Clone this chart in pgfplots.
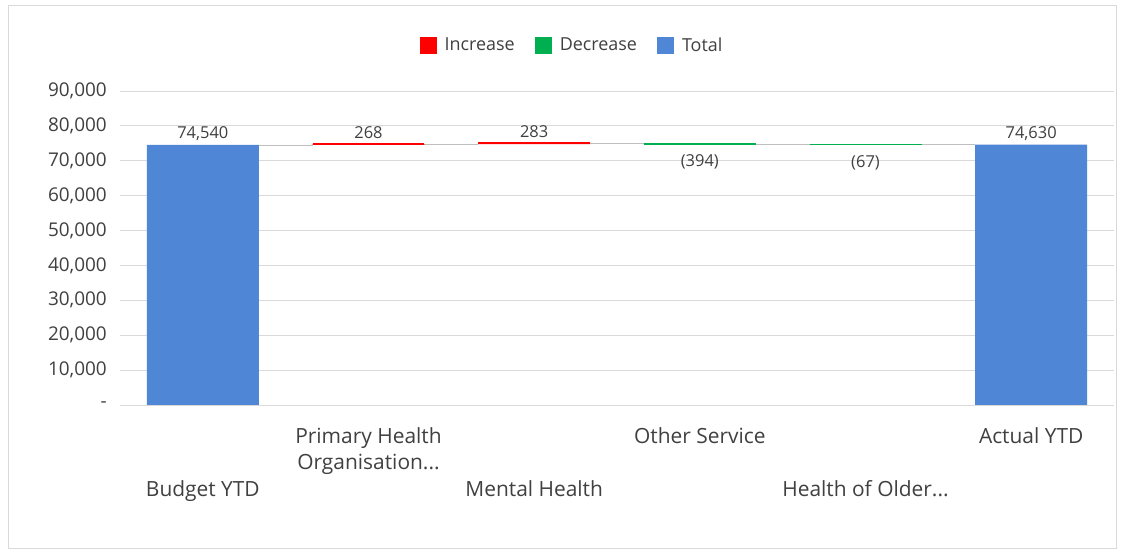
\documentclass[border=0pt]{standalone}
\usepackage{pgfplots}
\usepackage{pgfplotstable}
\pgfplotsset{compat=1.18}
\usepackage{fontspec}
\setmainfont{Open Sans}

\definecolor{incRed}{HTML}{FF0000}
\definecolor{decGreen}{HTML}{00B050}
\definecolor{totBlue}{HTML}{4F86D6}
\definecolor{txtGrey}{HTML}{404040}
\definecolor{gridGrey}{HTML}{D9D9D9}
\definecolor{linkGrey}{HTML}{BFBFBF}

\newcommand{\trunc}{.\kern0pt.\kern0pt.}
\def\nolab{none}
% print a value label unless the bar is marked "none"
\newcommand{\barlabel}{\edef\thislab{\pgfplotspointmeta}\ifx\thislab\nolab\else\pgfplotspointmeta\fi}
\pgfplotsset{
  valuelabels/.style={point meta=explicit symbolic, nodes near coords={\barlabel},
    every node near coord/.style={font=\fontsize{16.5}{20}\selectfont, text=txtGrey,
      inner sep=0pt, anchor=base, yshift=#1}},
}

% Waterfall: invisible base + increase + decrease + totals (stacked)
\pgfplotstableread{
x base  inc dec tot   inclab declab totlab
0 0     0   0   74540 none   none   74,540
1 74540 268 0   0     268    none   none
2 74808 283 0   0     283    none   none
3 74697 0   394 0     none   (394)  none
4 74630 0   67  0     none   (67)   none
5 0     0   0   74630 none   none   74,630
}\waterfall

% running total carried from one bar to the next
\pgfplotstableread{
x     y
0.338 74540
0.662 74540
nan   nan
1.338 74808
1.662 74808
nan   nan
2.338 75091
2.662 75091
nan   nan
3.338 74697
3.662 74697
nan   nan
4.338 74630
4.662 74630
}\connectors

% edges of the small movement bars, so that they stay visible
\pgfplotstableread{
x     y
0.662 74808
1.338 74808
nan   nan
1.662 75091
2.338 75091
}\upedges
\pgfplotstableread{
x     y
2.662 74697
3.338 74697
nan   nan
3.662 74630
4.338 74630
}\downedges

\begin{document}
\begin{tikzpicture}
\useasboundingbox (0,0) rectangle (1121bp,553bp);
\fill[white] (0,0) rectangle (1121bp,553bp);
\draw[gridGrey, line width=0.8bp] (8bp,5bp) rectangle (1116bp,548bp);
\begin{axis}[
  at={(120bp,148bp)}, anchor=south west,
  scale only axis, width=994bp, height=314bp,
  ybar stacked, bar width=0.676,
  xmin=-0.5, xmax=5.5, ymin=0, ymax=90000,
  axis line style={draw=none},
  major tick length=0pt,
  xtick={0,1,2,3,4,5},
  xticklabels={
    {\strut\\\strut\\\strut Budget YTD},
    {\strut Primary Health\\\strut Organisation\trunc},
    {\strut\\\strut\\\strut Mental Health},
    {\strut Other Service},
    {\strut\\\strut\\\strut Health of Older\trunc},
    {\strut Actual YTD}},
  xticklabel style={align=center, anchor=north, inner sep=0pt, yshift=-19bp,
    font=\fontsize{21}{27}\selectfont, text=txtGrey},
  ytick={0,10000,20000,30000,40000,50000,60000,70000,80000,90000},
  yticklabels={-,{10,000},{20,000},{30,000},{40,000},{50,000},{60,000},{70,000},{80,000},{90,000}},
  yticklabel style={anchor=east, inner sep=0pt, xshift=-13bp,
    font=\fontsize{19}{22}\selectfont, text=txtGrey},
  scaled y ticks=false,
  ymajorgrids, grid style={gridGrey, line width=0.8bp},
  legend columns=-1,
  legend image code/.code={\fill[#1] (0bp,-8.5bp) rectangle (17bp,8.5bp);},
  legend style={at={(0.4537,1.1465)}, anchor=center, draw=none, fill=none,
    font=\fontsize{18}{22}\selectfont, text=txtGrey,
    nodes={inner sep=0pt},
    /tikz/every odd column/.append style={column sep=8bp},
    /tikz/every even column/.append style={column sep=20bp}},
]
\addplot[draw=none, fill=none, forget plot] table[x=x, y=base] {\waterfall};
\addplot[draw=none, fill=incRed, valuelabels=6bp]
  table[x=x, y=inc, meta=inclab] {\waterfall};
\addplot[draw=none, fill=decGreen, valuelabels=-23bp]
  table[x=x, y=dec, meta=declab] {\waterfall};
\addplot[draw=none, fill=totBlue]
  table[x=x, y=tot] {\waterfall};
\legend{Increase, Decrease, Total}
\addplot[stack plots=false, sharp plot, mark=none, linkGrey, line width=0.8bp,
  unbounded coords=jump, forget plot]
  table[x=x, y=y] {\connectors};
\addplot[stack plots=false, sharp plot, mark=none, incRed, line width=1.1bp,
  unbounded coords=jump, forget plot]
  table[x=x, y=y] {\upedges};
\addplot[stack plots=false, sharp plot, mark=none, decGreen, line width=1.1bp,
  unbounded coords=jump, forget plot]
  table[x=x, y=y] {\downedges};
% totals carry their value above the bar (stacked labels sit at mid-height,
% so lift them by half the bar, about 130bp, plus the 6bp gap)
\addplot[stack plots=false, sharp plot, draw=none, mark=none, forget plot, valuelabels=136bp]
  table[x=x, y=tot, meta=totlab] {\waterfall};
\end{axis}
\end{tikzpicture}
\end{document}
